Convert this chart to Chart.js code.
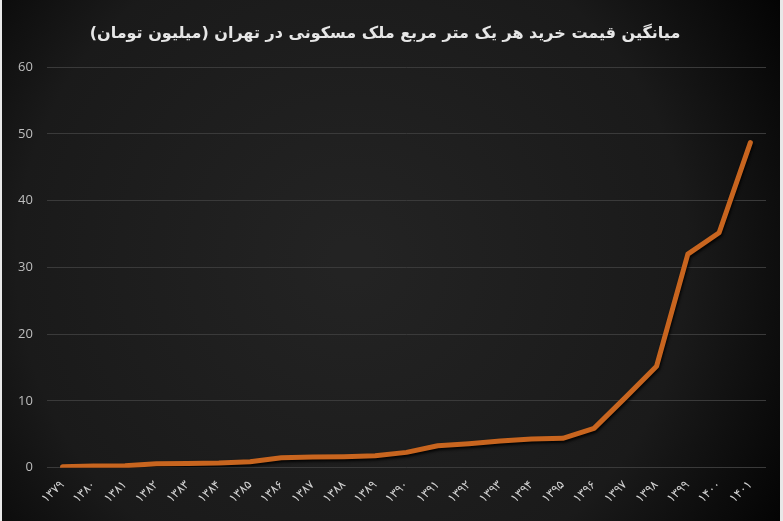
<!DOCTYPE html>
<html>
<head>
<meta charset="utf-8">
<script src="https://cdn.jsdelivr.net/npm/chart.js@4"></script>
<style>
  html, body { margin: 0; padding: 0; background: #e8e8e8; }
  #wrap { position: absolute; left: 2px; top: 0; width: 778px; height: 521px; }
</style>
</head>
<body>
<div id="wrap"><canvas id="priceChart"></canvas></div>
<script>
const titleText = "میانگین قیمت خرید هر یک متر مربع ملک مسکونی در تهران (میلیون تومان)";
const years = ["۱۳۷۹", "۱۳۸۰", "۱۳۸۱", "۱۳۸۲", "۱۳۸۳", "۱۳۸۴", "۱۳۸۵", "۱۳۸۶", "۱۳۸۷", "۱۳۸۸", "۱۳۸۹", "۱۳۹۰",
  "۱۳۹۱", "۱۳۹۲", "۱۳۹۳", "۱۳۹۴", "۱۳۹۵", "۱۳۹۶", "۱۳۹۷", "۱۳۹۸", "۱۳۹۹", "۱۴۰۰", "۱۴۰۱"];
const prices = [0.15, 0.25, 0.3, 0.6, 0.65, 0.7, 0.9, 1.5, 1.6, 1.65, 1.8, 2.3,
  3.3, 3.6, 4.0, 4.3, 4.4, 5.9, 10.5, 15.2, 32.0, 35.2, 48.7];
const yTicks = [0, 10, 20, 30, 40, 50, 60];

// dark vignette background drawn under everything
const backdrop = {
  id: "backdrop",
  beforeDraw(chart) {
    const { ctx, width, height } = chart;
    ctx.save();
    const g = ctx.createRadialGradient(width * 0.45, height * 0.5, 20, width * 0.45, height * 0.5, width * 0.65);
    g.addColorStop(0, "#232323");
    g.addColorStop(0.65, "#1a1a1a");
    g.addColorStop(1, "#030303");
    ctx.fillStyle = g;
    ctx.fillRect(0, 0, width, height);
    ctx.restore();
  }
};

// soft dark shadow behind the line
const lineShadow = {
  id: "lineShadow",
  beforeDatasetDraw(chart) {
    const ctx = chart.ctx;
    ctx.save();
    ctx.shadowColor = "rgba(0,0,0,0.9)";
    ctx.shadowBlur = 3;
    ctx.shadowOffsetX = 1;
    ctx.shadowOffsetY = 2;
  },
  afterDatasetDraw(chart) {
    chart.ctx.restore();
  }
};

new Chart(document.getElementById("priceChart"), {
  type: "line",
  data: {
    labels: years,
    datasets: [{
      data: prices,
      borderColor: "#c8651f",
      borderWidth: 5,
      pointRadius: 0,
      tension: 0,
      borderCapStyle: "round",
      borderJoinStyle: "round"
    }]
  },
  options: {
    responsive: true,
    maintainAspectRatio: false,
    animation: false,
    layout: { padding: { left: 2, right: 14, top: 14, bottom: 13 } },
    plugins: {
      legend: { display: false },
      tooltip: { enabled: false },
      title: {
        display: true,
        text: titleText,
        color: "#e6e6e6",
        font: { family: "DejaVu Sans", size: 16, weight: "bold" },
        padding: { top: 10, bottom: 24 }
      }
    },
    scales: {
      x: {
        offset: true,
        grid: { display: false },
        border: { display: false },
        ticks: {
          color: "#cfcfcf",
          font: { family: "DejaVu Sans", size: 12 },
          minRotation: 44,
          maxRotation: 44,
          autoSkip: false,
          padding: 2
        }
      },
      y: {
        min: 0,
        max: 60,
        afterBuildTicks(axis) { axis.ticks = yTicks.map(v => ({ value: v })); },
        grid: { color: "#3a3a3a", lineWidth: 1, drawTicks: false },
        border: { display: false },
        ticks: {
          color: "#bdbdbd",
          font: { family: "Open Sans", size: 13 },
          padding: 14
        }
      }
    }
  },
  plugins: [backdrop, lineShadow]
});
</script>
</body>
</html>
